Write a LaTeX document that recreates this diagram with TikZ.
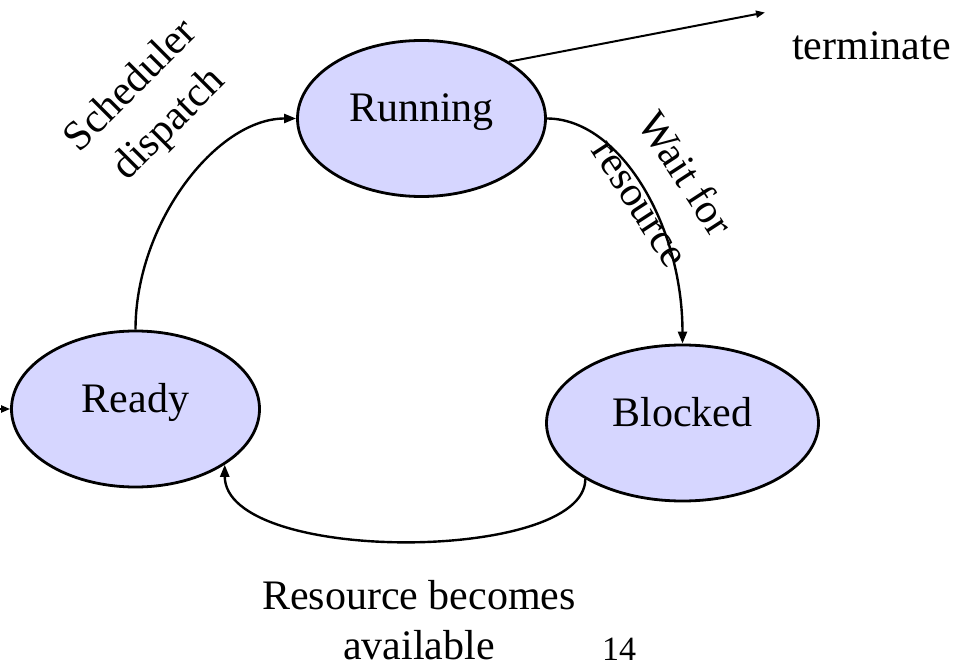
\documentclass[tikz,border=0pt]{standalone}
\usepackage{fontspec}
\setmainfont{Liberation Serif}
\usetikzlibrary{shapes.geometric,arrows.meta}
\definecolor{statefill}{RGB}{214,214,255}
\begin{document}
\begin{tikzpicture}[x=1pt,y=-1pt,
  font=\fontsize{42}{50}\selectfont,
  state/.style={ellipse, draw, line width=2.8pt, fill=statefill, inner sep=0pt,
    minimum height=156pt, text height=0.89em, text depth=0.22em},
  flow/.style={line width=2.4pt, -{Triangle[length=12pt,width=9pt]}},
  thinflow/.style={line width=2pt, -{Triangle[length=9pt,width=7pt]}},
  lbl/.style={inner sep=0pt, align=center}]
\useasboundingbox (0,0) rectangle (962,668);

% process states
\node[state, minimum width=248pt] (run) at (421.5,118.5) {Running};
\node[state, minimum width=248pt] (rdy) at (135.5,409) {Ready};
\node[state, minimum width=272pt] (blk) at (682.5,423) {Blocked};

% loose ends
\coordinate (newproc) at (0,409);
\coordinate (term) at (765,12.5);

% transitions
\draw[thinflow] (newproc) -- (rdy.west);
\draw[thinflow] (run.33) -- (term);
\draw[flow] (rdy.north) .. controls +(0,-106) and +(-80,0) .. (run.west);
\draw[flow] (run.east) .. controls +(72,0) and +(0,-120) .. (blk.north);
\draw[flow] (blk.210) .. controls +(0,84) and +(0,100) .. (rdy.-32);

% transition labels
\node[lbl, anchor=base west] (termlbl) at (792,60) {terminate};
\node[lbl, rotate=45] (dispatchlbl) at (151,106) {Scheduler\\[4pt]dispatch};
\node[lbl, rotate=-57] (waitlbl) at (664,188) {Wait for\\[4pt]resource};
\node[lbl, anchor=south] (availlbl) at (419,660) {Resource becomes\\available};
\node[inner sep=0pt, anchor=base west, font=\fontsize{34}{40}\selectfont] (pagenum) at (602,660) {14};
\end{tikzpicture}
\end{document}
